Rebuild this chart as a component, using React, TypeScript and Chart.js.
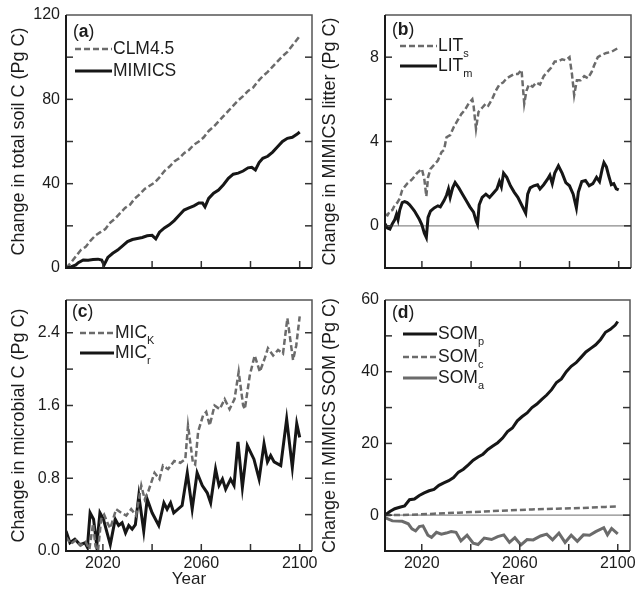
import React, { useEffect, useRef } from "react";
import { Chart, registerables } from "chart.js";
Chart.register(...registerables);

const FONT = '"Liberation Sans", Arial, Helvetica, sans-serif';
const BLACK = "#161616";
const GRAY = "#6b6b6b";
const TEXT = "#1c1c1c";

// ---------- shared x axis ----------
const X_MIN = 2005;
const X_MAX = 2105;
const X_TICKS = [2020, 2040, 2060, 2080, 2100];
const X_LABELS = [2020, 2060, 2100];

// ---------- Panel (a): change in total soil C ----------
const A_Y_TICKS = [0, 20, 40, 60, 80, 100, 120];
const A_Y_LABELS = [0, 40, 80, 120];
const A_CLM_YEARS = [2005, 2007, 2009, 2011, 2013, 2015, 2017, 2019, 2021, 2023, 2025, 2027, 2029, 2031, 2033, 2035, 2037, 2039, 2041, 2043, 2045, 2047, 2049, 2051, 2053, 2055, 2057, 2059, 2061, 2063, 2065, 2067, 2069, 2071, 2073, 2075, 2077, 2079, 2081, 2083, 2085, 2087, 2089, 2091, 2093, 2095, 2097, 2099, 2100];
const A_CLM = [0, 2.5, 5.5, 8.5, 10, 13, 15.5, 17, 18.5, 21.5, 23.5, 26, 28.5, 30, 33, 35, 37.5, 39, 40.5, 43, 46, 48, 50.5, 52, 54.5, 56, 58.5, 60, 62, 65, 67, 69.5, 72, 74.5, 77, 79.5, 81.5, 84, 85.5, 88.5, 91, 93, 95.5, 98, 100.5, 102.5, 105.5, 108.5, 110];
const A_MIM_YEARS = [2005, 2007, 2009, 2010, 2012, 2014, 2016, 2018, 2019.5, 2020.5, 2022, 2024, 2026, 2028, 2030, 2032, 2034, 2036, 2038, 2040, 2041.5, 2043, 2045, 2047, 2049, 2051, 2053, 2055, 2057, 2059, 2060.5, 2061.5, 2063, 2065, 2067, 2069, 2071, 2073, 2075, 2077, 2079, 2080.5, 2082, 2083.5, 2085, 2087, 2089, 2091, 2093, 2095, 2097, 2099, 2100];
const A_MIM = [0, 0.5, 1.5, 2.5, 3.8, 3.7, 4.0, 4.2, 3.8, 1.5, 5, 7, 8.5, 10.5, 12.5, 13.5, 14, 14.5, 15.3, 15.5, 13.8, 17, 19, 20.5, 22.5, 25, 27.5, 28.5, 29.5, 30.8, 30.8, 29, 33, 35.5, 37, 39.5, 42.5, 44.5, 45, 46, 47.5, 47.8, 46.5, 50, 52, 53, 55, 57.5, 60, 61.5, 62, 63.5, 64.5];

// ---------- Panel (b): MIMICS litter ----------
const B_Y_TICKS = [0, 2, 4, 6, 8];
const B_Y_LABELS = [0, 4, 8];
const B_LITS_YEARS = [2005, 2006, 2007, 2008, 2009, 2010, 2011, 2012, 2013, 2014, 2015, 2016, 2017, 2018, 2019, 2020, 2021, 2021.8, 2022.5, 2023.5, 2025, 2026.5, 2028, 2029, 2030, 2031.5, 2033, 2034.5, 2036, 2037.5, 2039, 2040.5, 2041, 2042, 2043, 2044.5, 2046, 2047, 2048.5, 2050, 2051.5, 2053, 2054.5, 2056, 2057.5, 2059, 2060.5, 2061.6, 2062.5, 2063.5, 2065, 2066.5, 2068, 2069.5, 2071, 2072.5, 2074, 2075.5, 2077, 2078.5, 2080, 2081, 2081.9, 2083, 2084.5, 2086, 2087.5, 2089, 2090, 2091.5, 2093, 2095, 2097, 2098.5, 2100];
const B_LITS = [0.55, 0.5, 0.7, 0.75, 1.0, 1.1, 1.3, 1.7, 1.85, 2.0, 2.1, 2.2, 2.35, 2.5, 2.6, 2.7, 2.2, 1.4, 2.3, 2.7, 2.9, 3.1, 3.5, 3.6, 4.2, 4.3, 4.7, 5.0, 5.3, 5.5, 5.8, 6.0, 5.7, 4.6, 5.4, 5.6, 5.8, 5.7, 6.0, 6.4, 6.7, 6.8, 7.0, 7.1, 7.2, 7.2, 7.4, 5.8, 6.4, 6.7, 6.6, 6.8, 6.7, 7.1, 7.3, 7.5, 7.8, 7.8, 7.9, 7.85, 8.0, 7.2, 6.2, 6.9, 6.9, 7.1, 7.0, 7.3, 7.6, 8.0, 8.1, 8.2, 8.25, 8.35, 8.45];
const B_LITM_YEARS = [2005, 2006, 2007, 2008, 2009, 2009.7, 2010.3, 2011, 2012, 2013, 2014, 2015, 2016, 2017, 2018, 2019, 2020, 2021, 2021.8, 2022.5, 2023.5, 2025, 2026.5, 2027.5, 2029, 2030, 2030.8, 2031.5, 2032.5, 2033.5, 2035, 2036.5, 2038, 2039.5, 2041, 2042, 2042.6, 2043.3, 2044.5, 2046, 2047.5, 2049, 2050.5, 2051.5, 2052.3, 2053.2, 2054.5, 2056, 2057.5, 2059, 2060.5, 2062.2, 2063, 2064, 2065.5, 2067, 2068, 2069.5, 2071, 2072, 2073, 2074, 2075.5, 2077, 2078.5, 2080, 2081.5, 2082.8, 2083.6, 2085, 2086.5, 2088, 2089.5, 2091, 2092.2, 2093.3, 2094, 2095, 2096, 2097, 2098, 2099, 2100];
const B_LITM = [0.1, -0.1, -0.15, 0.1, 0.3, 0.55, 0.3, 0.75, 1.1, 1.15, 1.1, 1.0, 0.85, 0.7, 0.5, 0.3, 0.05, -0.35, -0.55, 0.4, 0.7, 0.85, 0.95, 0.9, 1.2, 1.45, 1.75, 1.35, 1.8, 2.05, 1.8, 1.5, 1.2, 0.9, 0.65, 0.25, 0.08, 1.0, 1.35, 1.5, 1.35, 1.55, 1.75, 2.1, 1.85, 2.5, 2.3, 1.9, 1.6, 1.35, 1.0, 0.6, 1.5, 1.8, 1.9, 1.95, 1.75, 1.95, 2.2, 2.4, 2.0, 2.5, 2.85, 2.5, 2.05, 1.9, 1.5, 0.85, 1.6, 2.1, 2.15, 1.9, 2.0, 2.3, 2.1, 2.7, 3.0, 2.8, 2.35, 1.95, 2.0, 1.75, 1.7];

// ---------- Panel (c): microbial C ----------
const C_Y_TICKS = [0, 0.4, 0.8, 1.2, 1.6, 2.0, 2.4];
const C_Y_LABELS = [0, 0.8, 1.6, 2.4];
const C_MICK_YEARS = [2005, 2007, 2009, 2011, 2013, 2014.5, 2016, 2017, 2018, 2019.3, 2020.5, 2022, 2023, 2025.4, 2027.5, 2029.5, 2031.5, 2033.5, 2035.6, 2037, 2038.5, 2041, 2043, 2044.4, 2046.5, 2049, 2051.5, 2053.5, 2054.6, 2056.6, 2057.5, 2058.7, 2060.7, 2062, 2063.4, 2065.4, 2067.5, 2069.5, 2071.5, 2073.5, 2075.2, 2077, 2077.7, 2079.7, 2081.7, 2083.8, 2085.8, 2087.1, 2089.2, 2091.2, 2093.2, 2095, 2097.3, 2098.6, 2100];
const C_MICK = [0.15, 0.08, 0.12, 0.06, 0.1, 0.02, 0.3, 0.05, 0.0, 0.35, 0.4, 0.3, 0.25, 0.46, 0.42, 0.39, 0.46, 0.39, 0.72, 0.57, 0.66, 0.86, 0.79, 0.94, 0.9, 0.99, 0.97, 1.01, 1.38, 0.97, 0.95, 1.31, 1.49, 1.53, 1.38, 1.6, 1.56, 1.67, 1.56, 1.67, 1.97, 1.6, 1.56, 1.93, 2.15, 1.97, 2.12, 2.23, 2.15, 2.21, 2.17, 2.56, 2.1, 2.26, 2.58];
const C_MICR_YEARS = [2005, 2006.6, 2008.6, 2010.7, 2012.7, 2013.7, 2014.8, 2016.2, 2017.5, 2018.8, 2020.2, 2023, 2025, 2026.4, 2027.8, 2029.2, 2030.5, 2031.9, 2033.2, 2034.6, 2036.6, 2038, 2040, 2042.7, 2044.8, 2046.1, 2047.5, 2048.8, 2052.2, 2054.3, 2056.3, 2058.3, 2060.4, 2062.4, 2063.8, 2065.8, 2067.2, 2068.6, 2069.9, 2071.9, 2073.3, 2074.9, 2076.7, 2078.7, 2081.4, 2083.5, 2085.5, 2086.9, 2088.2, 2089.6, 2092.3, 2094.7, 2097, 2098.8, 2100];
const C_MICR = [0.22, 0.09, 0.13, 0.07, 0.09, 0.04, 0.42, 0.35, 0.06, 0.42, 0.35, 0.07, 0.35, 0.28, 0.31, 0.2, 0.28, 0.24, 0.29, 0.61, 0.22, 0.57, 0.42, 0.28, 0.53, 0.46, 0.53, 0.42, 0.5, 0.86, 0.46, 0.86, 0.72, 0.64, 0.53, 0.9, 0.72, 0.79, 0.68, 0.79, 0.72, 1.2, 0.7, 1.16, 1.01, 0.79, 1.18, 0.98, 1.05, 0.98, 0.94, 1.45, 0.92, 1.4, 1.25];

// ---------- Panel (d): MIMICS SOM ----------
const D_Y_TICKS = [0, 10, 20, 30, 40, 50, 60];
const D_Y_LABELS = [0, 20, 40, 60];
const D_SOMP_YEARS = [2005, 2007, 2009, 2011, 2013, 2015, 2017, 2019, 2021, 2023, 2025, 2027, 2029, 2031, 2033, 2035, 2037, 2039, 2041, 2043, 2045, 2047, 2049, 2051, 2053, 2055, 2057, 2059, 2061, 2063, 2065, 2067, 2069, 2071, 2073, 2075, 2077, 2079, 2081, 2083, 2085, 2087, 2089, 2091, 2093, 2095, 2097, 2099, 2100];
const D_SOMP = [0, 1.0, 1.8, 2.2, 2.6, 4.3, 4.5, 5.5, 6.2, 6.8, 7.2, 8.3, 9.0, 9.6, 10.5, 12.0, 12.8, 14.0, 15.3, 16.2, 17.0, 18.3, 19.3, 20.2, 21.5, 23.3, 24.3, 26.3, 27.5, 28.5, 30.0, 31.0, 32.3, 33.5, 35.0, 37.0, 38.0, 40.0, 41.5, 42.5, 44.0, 45.5, 46.5, 47.5, 49.0, 51.0, 51.8, 53.0, 54.0];
const D_SOMC_YEARS = [2005, 2015, 2025, 2035, 2045, 2055, 2065, 2075, 2085, 2095, 2100];
const D_SOMC = [0, 0.1, 0.4, 0.7, 1.0, 1.3, 1.6, 1.8, 2.0, 2.3, 2.4];
const D_SOMA_YEARS = [2005, 2008, 2012, 2014.5, 2016, 2017.5, 2019, 2020.5, 2022.5, 2024, 2026, 2028, 2030, 2032, 2034, 2036, 2038.5, 2041, 2043, 2045.5, 2048.5, 2051, 2053.5, 2055.8, 2058, 2060.5, 2063, 2065.5, 2068.5, 2071, 2073.4, 2076, 2078.5, 2081, 2083.5, 2086, 2088.5, 2091, 2094.3, 2095.8, 2097.5, 2100];
const D_SOMA = [-0.7, -1.6, -1.7, -2.4, -3.8, -4.4, -3.2, -3.0, -5.6, -6.2, -4.8, -5.3, -5.0, -4.6, -4.8, -7.2, -5.6, -7.8, -8.2, -6.4, -6.8, -6.0, -5.5, -7.6, -6.3, -8.3, -6.8, -6.9, -5.8, -5.3, -6.9, -5.0, -7.6, -5.6, -7.3, -5.5, -5.6, -4.6, -3.5, -5.5, -3.7, -5.2];

const pts = (xs: number[], ys: number[]) => xs.map((x, i) => ({ x, y: ys[i] }));
const near = (list: number[], v: number) => list.some((l) => Math.abs(l - v) < 1e-6);

type Style = "black" | "dashed" | "gray";
const dsStyle = (s: Style) => {
  if (s === "black") return { borderColor: BLACK, borderWidth: 3 };
  if (s === "dashed") return { borderColor: GRAY, borderWidth: 2.5, borderDash: [6, 3] };
  return { borderColor: GRAY, borderWidth: 3 };
};

const framePlugin = {
  id: "frame",
  beforeDatasetsDraw(chart: any, _args: any, opts: any) {
    if (!opts || !opts.zeroLine) return;
    const { ctx, chartArea } = chart;
    const y = chart.scales.y.getPixelForValue(0);
    ctx.save();
    ctx.strokeStyle = "#8a8a8a";
    ctx.lineWidth = 1.2;
    ctx.beginPath();
    ctx.moveTo(chartArea.left, y);
    ctx.lineTo(chartArea.right, y);
    ctx.stroke();
    ctx.restore();
  },
  afterDatasetsDraw(chart: any) {
    const { ctx, chartArea } = chart;
    const { left, right, top, bottom } = chartArea;
    const xs = chart.scales.x;
    const ys = chart.scales.y;
    const seg = (x1: number, y1: number, x2: number, y2: number) => {
      ctx.beginPath();
      ctx.moveTo(x1, y1);
      ctx.lineTo(x2, y2);
      ctx.stroke();
    };
    ctx.save();
    ctx.strokeStyle = "#555";
    ctx.lineWidth = 1.5;
    ctx.beginPath();
    ctx.moveTo(left, top);
    ctx.lineTo(right, top);
    ctx.lineTo(right, bottom);
    ctx.stroke();
    ctx.strokeStyle = "#333";
    ctx.lineWidth = 1.5;
    for (const t of ys.ticks) {
      const py = ys.getPixelForValue(t.value);
      if (py < top + 2 || py > bottom - 2) continue;
      seg(left, py, left + 7, py);
      seg(right, py, right - 7, py);
    }
    for (const t of xs.ticks) {
      const px = xs.getPixelForValue(t.value);
      if (px < left + 2 || px > right - 2) continue;
      seg(px, bottom, px, bottom - 7);
    }
    ctx.strokeStyle = "#1a1a1a";
    ctx.lineWidth = 2;
    ctx.beginPath();
    ctx.moveTo(left, top);
    ctx.lineTo(left, bottom);
    ctx.lineTo(right, bottom);
    ctx.stroke();
    ctx.restore();
  },
};

type PanelCfg = {
  left: number;
  top: number;
  w: number;
  h: number;
  area: { l: number; t: number; r: number; b: number };
  ymin: number;
  ymax: number;
  yticks: number[];
  ylabels: number[];
  ydigits: number;
  ytitle: string;
  titleCenter: number;
  showX: boolean;
  zero: boolean;
  series: { xs: number[]; ys: number[]; style: Style; label: string }[];
};

function Panel({ cfg }: { cfg: PanelCfg }) {
  const ref = useRef<HTMLCanvasElement>(null);
  useEffect(() => {
    const { area, w, h } = cfg;
    const yWidth = area.l;
    const xHeight = h - area.b;
    const chart = new Chart(ref.current as HTMLCanvasElement, {
      type: "line",
      data: {
        datasets: cfg.series.map((s) => ({
          label: s.label,
          data: pts(s.xs, s.ys),
          pointRadius: 0,
          tension: 0,
          fill: false,
          ...dsStyle(s.style),
        })),
      },
      plugins: [framePlugin as any],
      options: {
        animation: false,
        responsive: false,
        devicePixelRatio: 1,
        layout: { padding: { left: 0, right: w - area.r, top: area.t, bottom: 0 } },
        plugins: {
          legend: { display: false },
          tooltip: { enabled: false },
          frame: { zeroLine: cfg.zero },
        } as any,
        scales: {
          x: {
            type: "linear",
            min: X_MIN,
            max: X_MAX,
            grid: { display: false, drawTicks: false },
            border: { display: false },
            afterBuildTicks: (s: any) => {
              s.ticks = X_TICKS.map((v) => ({ value: v }));
            },
            ticks: {
              autoSkip: false,
              maxRotation: 0,
              padding: 3,
              color: TEXT,
              font: { family: FONT, size: 16 },
              callback: (v: any) => (cfg.showX && near(X_LABELS, Number(v)) ? String(v) : ""),
            },
            title: {
              display: cfg.showX,
              text: "Year",
              color: TEXT,
              font: { family: FONT, size: 17, lineHeight: 1.2 },
              padding: { top: 0, bottom: 1 },
            },
            afterFit: (s: any) => {
              s.height = xHeight;
              s.paddingLeft = 0;
              s.paddingRight = 0;
            },
          },
          y: {
            type: "linear",
            min: cfg.ymin,
            max: cfg.ymax,
            grid: { display: false, drawTicks: false },
            border: { display: false },
            afterBuildTicks: (s: any) => {
              s.ticks = cfg.yticks.map((v) => ({ value: v }));
            },
            ticks: {
              autoSkip: false,
              padding: 6,
              color: TEXT,
              font: { family: FONT, size: 16 },
              callback: (v: any) => (near(cfg.ylabels, Number(v)) ? Number(v).toFixed(cfg.ydigits) : ""),
            },
            title: {
              display: true,
              text: cfg.ytitle,
              color: TEXT,
              font: { family: FONT, size: 18, lineHeight: 1.2 },
              padding: { top: cfg.titleCenter - 10.8, bottom: 0 },
            },
            afterFit: (s: any) => {
              s.width = yWidth;
              s.paddingTop = 0;
              s.paddingBottom = 0;
            },
          },
        },
      } as any,
    });
    return () => chart.destroy();
  }, []);
  return (
    <canvas
      ref={ref}
      width={cfg.w}
      height={cfg.h}
      style={{ position: "absolute", left: cfg.left, top: cfg.top, width: cfg.w, height: cfg.h }}
    />
  );
}

const PANELS: PanelCfg[] = [
  {
    left: 0, top: 0, w: 318, h: 290,
    area: { l: 66, t: 15, r: 312, b: 268 },
    ymin: 0, ymax: 120, yticks: A_Y_TICKS, ylabels: A_Y_LABELS, ydigits: 0,
    ytitle: "Change in total soil C (Pg C)",
    titleCenter: 19,
    showX: false, zero: false,
    series: [
      { xs: A_MIM_YEARS, ys: A_MIM, style: "black", label: "MIMICS" },
      { xs: A_CLM_YEARS, ys: A_CLM, style: "dashed", label: "CLM4.5" },
    ],
  },
  {
    left: 310, top: 0, w: 325, h: 290,
    area: { l: 75, t: 15, r: 321, b: 268 },
    ymin: -2, ymax: 10, yticks: B_Y_TICKS, ylabels: B_Y_LABELS, ydigits: 0,
    ytitle: "Change in MIMICS litter (Pg C)",
    titleCenter: 20,
    showX: false, zero: true,
    series: [
      { xs: B_LITM_YEARS, ys: B_LITM, style: "black", label: "LITm" },
      { xs: B_LITS_YEARS, ys: B_LITS, style: "dashed", label: "LITs" },
    ],
  },
  {
    left: 0, top: 290, w: 318, h: 301,
    area: { l: 66, t: 10, r: 312, b: 261 },
    ymin: 0, ymax: 2.76, yticks: C_Y_TICKS, ylabels: C_Y_LABELS, ydigits: 1,
    ytitle: "Change in microbial C (Pg C)",
    titleCenter: 19,
    showX: true, zero: false,
    series: [
      { xs: C_MICK_YEARS, ys: C_MICK, style: "dashed", label: "MICK" },
      { xs: C_MICR_YEARS, ys: C_MICR, style: "black", label: "MICr" },
    ],
  },
  {
    left: 310, top: 290, w: 325, h: 301,
    area: { l: 75, t: 10, r: 320, b: 261 },
    ymin: -10, ymax: 60, yticks: D_Y_TICKS, ylabels: D_Y_LABELS, ydigits: 0,
    ytitle: "Change in MIMICS SOM (Pg C)",
    titleCenter: 20,
    showX: true, zero: true,
    series: [
      { xs: D_SOMP_YEARS, ys: D_SOMP, style: "black", label: "SOMp" },
      { xs: D_SOMC_YEARS, ys: D_SOMC, style: "dashed", label: "SOMc" },
      { xs: D_SOMA_YEARS, ys: D_SOMA, style: "gray", label: "SOMa" },
    ],
  },
];

function LineSample({ style, len }: { style: Style; len: number }) {
  const st = dsStyle(style) as any;
  return (
    <svg width={len} height={6} style={{ display: "block", flex: "none" }}>
      <line
        x1={0}
        y1={3}
        x2={len}
        y2={3}
        stroke={st.borderColor}
        strokeWidth={st.borderWidth}
        strokeDasharray={st.borderDash ? st.borderDash.join(" ") : undefined}
      />
    </svg>
  );
}

function Row({ x, y, len, style, main, sub }: { x: number; y: number; len: number; style: Style; main: string; sub?: string }) {
  return (
    <div
      style={{
        position: "absolute",
        left: x,
        top: y - 10,
        height: 20,
        display: "flex",
        alignItems: "center",
        whiteSpace: "nowrap",
        fontFamily: FONT,
        fontSize: 17.5,
        lineHeight: 1,
        color: TEXT,
      }}
    >
      <LineSample style={style} len={len} />
      <span style={{ marginLeft: 1, lineHeight: 1 }}>
        {main}
        {sub ? (
          <span style={{ fontSize: 11, position: "relative", top: 6, lineHeight: 0 }}>{sub}</span>
        ) : null}
      </span>
    </div>
  );
}

function Tag({ x, y, letter }: { x: number; y: number; letter: string }) {
  return (
    <div
      style={{
        position: "absolute",
        left: x,
        top: y - 10,
        height: 20,
        lineHeight: "20px",
        fontFamily: FONT,
        fontSize: 17.5,
        color: TEXT,
        whiteSpace: "nowrap",
      }}
    >
      (<b>{letter}</b>)
    </div>
  );
}

export default function App() {
  return (
    <div style={{ position: "absolute", left: 0, top: 0, width: 635, height: 591, background: "#fff", overflow: "hidden" }}>
      {PANELS.map((p, i) => (
        <Panel key={i} cfg={p} />
      ))}
      <Tag x={73} y={31} letter="a" />
      <Row x={75} y={49} len={37} style="dashed" main="CLM4.5" />
      <Row x={75} y={71} len={37} style="black" main="MIMICS" />

      <Tag x={392} y={29} letter="b" />
      <Row x={400} y={46} len={37} style="dashed" main="LIT" sub="s" />
      <Row x={400} y={66} len={37} style="black" main="LIT" sub="m" />

      <Tag x={72} y={311} letter="c" />
      <Row x={80} y={333} len={34} style="dashed" main="MIC" sub="K" />
      <Row x={80} y={353} len={34} style="black" main="MIC" sub="r" />

      <Tag x={392} y={312} letter="d" />
      <Row x={403} y={334} len={34} style="black" main="SOM" sub="p" />
      <Row x={403} y={357} len={34} style="dashed" main="SOM" sub="c" />
      <Row x={403} y={378} len={34} style="gray" main="SOM" sub="a" />
    </div>
  );
}
